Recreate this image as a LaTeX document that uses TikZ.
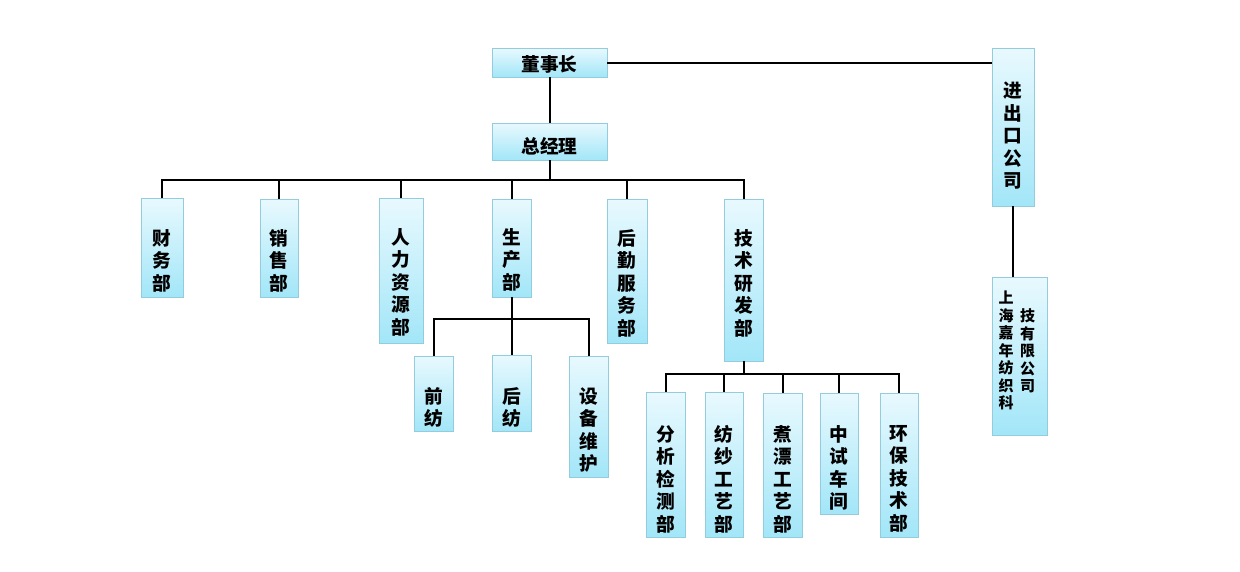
\documentclass[tikz,border=0pt]{standalone}
\usepackage{fontspec}
\newfontfamily\cjk{Noto Sans CJK SC}
\usetikzlibrary{shadows}
\definecolor{boxtop}{HTML}{E8F9FE}
\definecolor{boxbot}{HTML}{A2E6F8}
\definecolor{boxline}{HTML}{93CDDD}
\tikzset{
  orgbox/.style={rectangle, draw=boxline, line width=0.8pt, top color=boxtop, bottom color=boxbot,
    inner sep=0pt, drop shadow={shadow xshift=1.2pt, shadow yshift=-1.2pt, opacity=0.25, fill=black}},
  orgtext/.style={inner sep=0pt, align=center, font=\cjk\bfseries\fontsize{18.67}{22.5}\selectfont},
  smalltext/.style={inner sep=0pt, align=center, font=\cjk\bfseries\fontsize{15}{17.5}\selectfont},
  conn/.style={line width=2pt, black}
}
\begin{document}
\begin{tikzpicture}[x=1pt,y=-1pt]
\path[use as bounding box, fill=white] (0,0) rectangle (1240,571);
% boxes
\node[orgbox, minimum width=115, minimum height=29] (dsz) at (549.5,62.5) {};
\node[orgbox, minimum width=115, minimum height=37] (zjl) at (549.5,141.5) {};
\node[orgbox, minimum width=42, minimum height=99] (cw) at (162,247.5) {};
\node[orgbox, minimum width=38, minimum height=98] (xs) at (279,248) {};
\node[orgbox, minimum width=44, minimum height=145] (rl) at (401,270.5) {};
\node[orgbox, minimum width=39, minimum height=98] (sc) at (511.5,248) {};
\node[orgbox, minimum width=40, minimum height=144] (hq) at (627,271) {};
\node[orgbox, minimum width=39, minimum height=162] (js) at (743.5,280) {};
\node[orgbox, minimum width=39, minimum height=75] (qf) at (433.5,393.5) {};
\node[orgbox, minimum width=39, minimum height=76] (hf) at (511.5,393) {};
\node[orgbox, minimum width=39, minimum height=121] (sb) at (588.5,416.5) {};
\node[orgbox, minimum width=39, minimum height=145] (fx) at (665.5,464.5) {};
\node[orgbox, minimum width=38, minimum height=145] (fs) at (724,464.5) {};
\node[orgbox, minimum width=39, minimum height=144] (zp) at (782.5,465) {};
\node[orgbox, minimum width=38, minimum height=121] (zs) at (839,453.5) {};
\node[orgbox, minimum width=38, minimum height=144] (hb) at (899,465) {};
\node[orgbox, minimum width=42, minimum height=158] (jck) at (1013,127) {};
\node[orgbox, minimum width=55, minimum height=158] (sh) at (1019.5,356) {};
% texts
\node[orgtext] (dsz-t) at (549.5,64.5) {董事长};
\node[orgtext] (zjl-t) at (549.5,146.5) {总经理};
\node[orgtext, anchor=north] (cw-t) at (162,229) {财\\务\\部};
\node[orgtext, anchor=north] (xs-t) at (279,229) {销\\售\\部};
\node[orgtext, anchor=north] (rl-t) at (401,228) {人\\力\\资\\源\\部};
\node[orgtext, anchor=north] (sc-t) at (511.5,228) {生\\产\\部};
\node[orgtext, anchor=north] (hq-t) at (627,229) {后\\勤\\服\\务\\部};
\node[orgtext, anchor=north] (js-t) at (743.5,229) {技\\术\\研\\发\\部};
\node[orgtext, anchor=north] (qf-t) at (433.5,387) {前\\纺};
\node[orgtext, anchor=north] (hf-t) at (511.5,387) {后\\纺};
\node[orgtext, anchor=north] (sb-t) at (588.5,387) {设\\备\\维\\护};
\node[orgtext, anchor=north] (fx-t) at (665.5,425) {分\\析\\检\\测\\部};
\node[orgtext, anchor=north] (fs-t) at (724,425) {纺\\纱\\工\\艺\\部};
\node[orgtext, anchor=north] (zp-t) at (782.5,425) {煮\\漂\\工\\艺\\部};
\node[orgtext, anchor=north] (zs-t) at (839,425) {中\\试\\车\\间};
\node[orgtext, anchor=north] (hb-t) at (899,425) {环\\保\\技\\术\\部};
\node[orgtext, anchor=north] (jck-t) at (1013,82) {进\\出\\口\\公\\司};
\node[smalltext, anchor=north] (sh-t1) at (1006,291) {上\\海\\嘉\\年\\纺\\织\\科};
\node[smalltext, anchor=north] (sh-t2) at (1027.5,308.5) {技\\有\\限\\公\\司};
% connectors
\coordinate (bus) at (549.5,180);
\coordinate (scbus) at (511.5,319);
\coordinate (jsbus) at (743.5,374);
\draw[conn] (dsz.east) -- (dsz.east -| jck.west);
\draw[conn] (dsz.south) -- (zjl.north);
\draw[conn] (zjl.south) -- (bus);
\draw[conn] (cw.north) -- (bus -| cw.north) -- (bus -| js.north) -- (js.north);
\foreach \n in {xs,rl,sc,hq} \draw[conn] (bus -| \n.north) -- (\n.north);
\draw[conn] (sc.south) -- (scbus);
\draw[conn] (qf.north) -- (scbus -| qf.north) -- (scbus -| sb.north) -- (sb.north);
\draw[conn] (scbus) -- (hf.north);
\draw[conn] (js.south) -- (jsbus);
\draw[conn] (fx.north) -- (jsbus -| fx.north) -- (jsbus -| hb.north) -- (hb.north);
\foreach \n in {fs,zp,zs} \draw[conn] (jsbus -| \n.north) -- (\n.north);
\draw[conn] (jck.south) -- (jck.south |- sh.north);
\end{tikzpicture}
\end{document}
